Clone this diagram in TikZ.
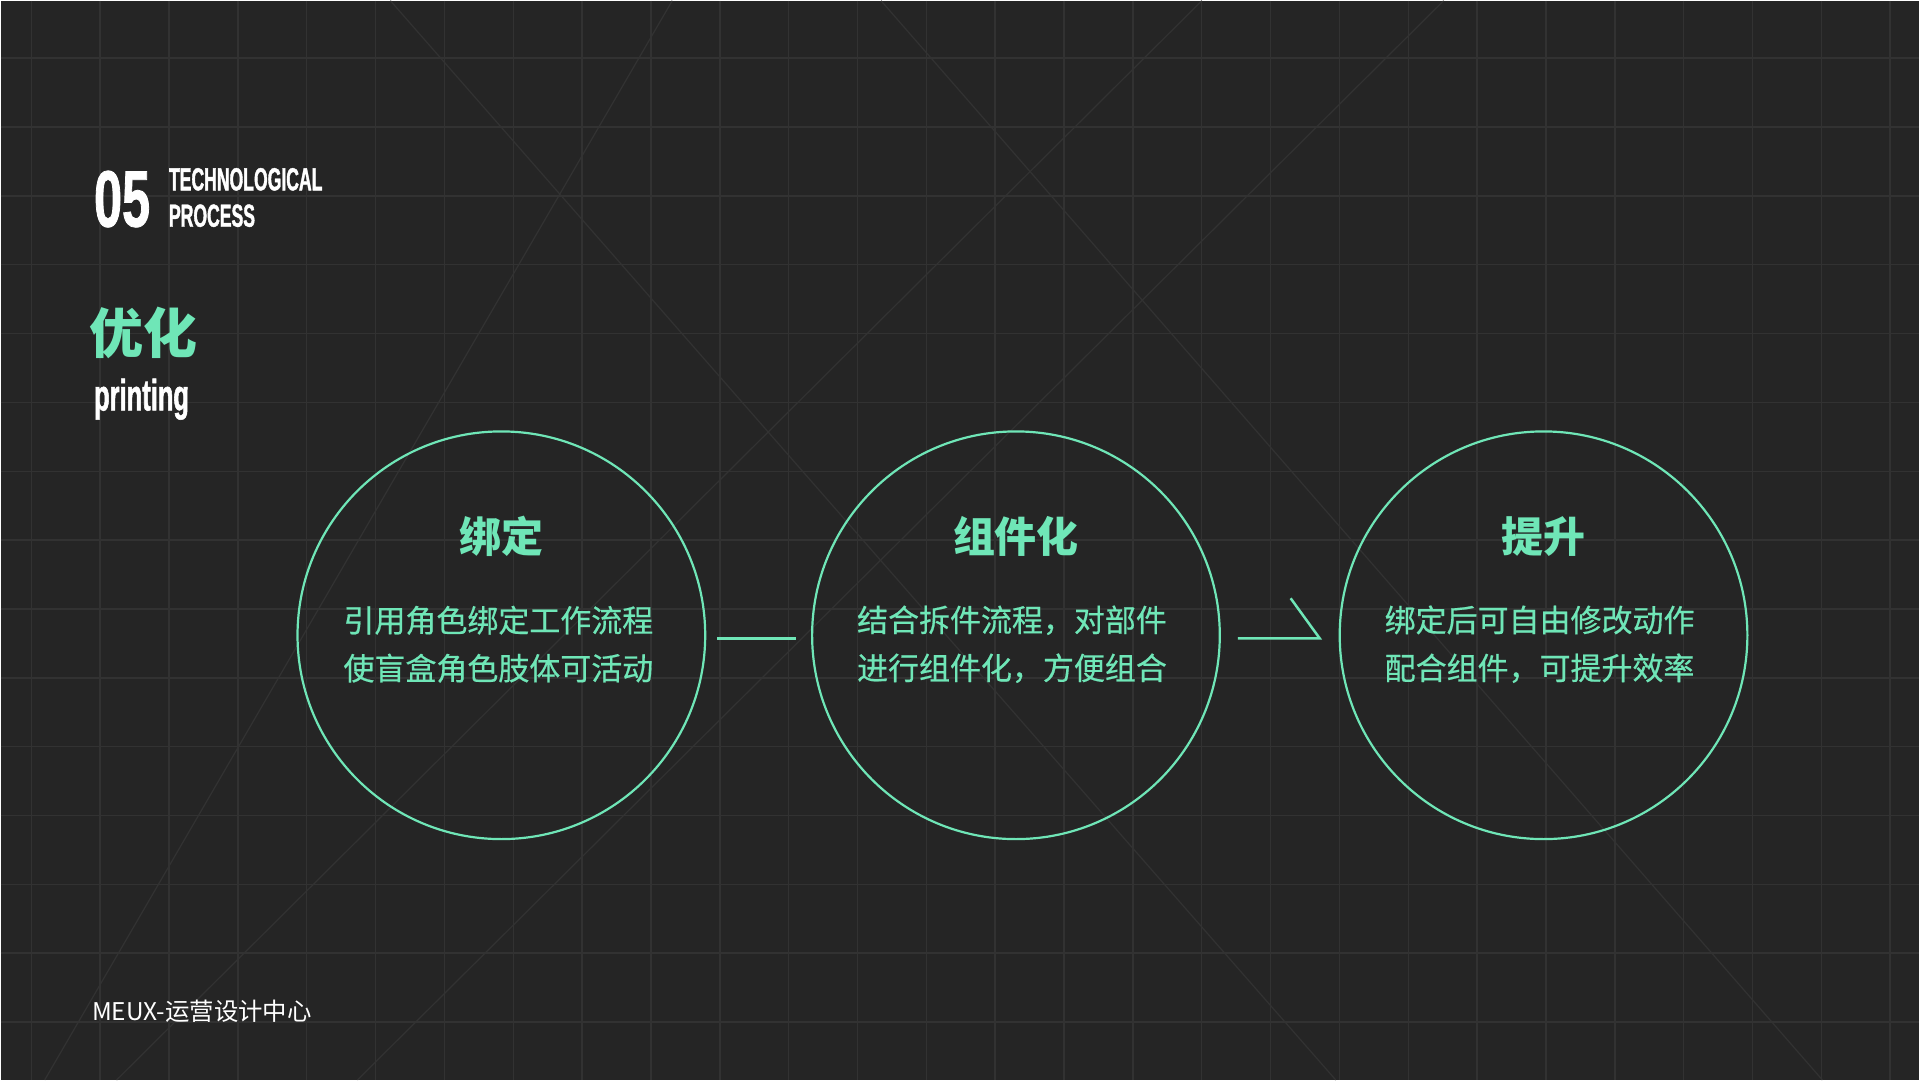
\documentclass[tikz,border=0pt]{standalone}
\usepackage{fontspec}
\usepackage{tikz}
\usetikzlibrary{positioning}
\newfontfamily\cjk{Noto Sans CJK SC}
\newfontfamily\cjkbody[FakeBold=0.5]{Noto Sans CJK SC}
\newfontfamily\numfont[FakeStretch=0.63,FakeBold=1]{Liberation Sans}
\newfontfamily\capfont[FakeStretch=0.55,FakeBold=1.2]{Liberation Sans}
\newfontfamily\subfont[FakeStretch=0.58,FakeBold=1.2]{Liberation Sans}
\definecolor{bgdark}{HTML}{252525}
\definecolor{gridline}{HTML}{323232}
\definecolor{mint}{HTML}{6FE6B7}

\begin{document}
\begin{tikzpicture}[x=0.5pt,y=-0.5pt,
  stage/.style={circle,draw=mint,line width=1.1pt,minimum size=204pt,inner sep=0pt},
  stagetitle/.style={text=mint,inner sep=0pt,font=\cjk\bfseries\fontsize{21pt}{21pt}\selectfont},
  stagetext/.style={text=mint,inner sep=0pt,align=center,font=\cjkbody\fontsize{15.5pt}{24pt}\selectfont},
  link/.style={draw=mint,line width=1.25pt},
  bgline/.style={gridline,line width=0.75pt}]
			% background and grid
			\fill[bgdark] (0,0) rectangle (1920,1080);
			\foreach \i in {0,...,27}
				\draw[bgline] ({30.6+68.9*\i},0) -- ++(0,1080);
			\foreach \j in {0,...,14}
				\draw[bgline] (0,{57.5+68.9*\j}) -- ++(1920,0);
			\draw[bgline,line width=0.6pt] (390,0) -- (1336,1080);
			\draw[bgline,line width=0.6pt] (881,0) -- (1823,1080);
			\draw[bgline,line width=0.6pt] (672,0) -- (44,1080);
			\draw[bgline,line width=0.6pt] (1202,0) -- (116,1080);
			\draw[bgline,line width=0.6pt] (1444,0) -- (357,1080);
			% heading
			\node[anchor=base west,inner sep=0pt,text=white,font=\numfont\bfseries\fontsize{40pt}{40pt}\selectfont] (num) at (93,226) {05};
			\node[anchor=north west,inner sep=0pt,align=left,text=white,font=\capfont\bfseries\fontsize{16pt}{18.2pt}\selectfont] (head) at (168,167) {TECHNOLOGICAL\\PROCESS};
			\node[anchor=west,inner sep=0pt,text=mint,font=\cjk\bfseries\fontsize{27pt}{27pt}\selectfont] (topic) at (88,332) {优化};
			\node[anchor=base west,inner sep=0pt,text=white,font=\subfont\bfseries\fontsize{22pt}{22pt}\selectfont] (topicen) at (93,410) {printing};
			% stages
			\node[stage] (bind) at (501,635) {};
			\node[stage] (comp) at (1016,635) {};
			\node[stage] (lift) at (1544,635) {};
			\node[stagetitle] (bindtitle) at ([shift={(0,-99)}]bind.center) {绑定};
			\node[stagetitle] (comptitle) at ([shift={(0,-99)}]comp.center) {组件化};
			\node[stagetitle] (lifttitle) at ([shift={(0,-99)}]lift.center) {提升};
			\node[stagetext] (bindtext) at ([shift={(-3,9)}]bind.center) {引用角色绑定工作流程\\使盲盒角色肢体可活动};
			\node[stagetext] (comptext) at ([shift={(-4,9)}]comp.center) {结合拆件流程，对部件\\进行组件化，方便组合};
			\node[stagetext] (lifttext) at ([shift={(-4,9)}]lift.center) {绑定后可自由修改动作\\配合组件，可提升效率};
			\draw[link] ([shift={(11,3)}]bind.east) -- ([shift={(-15,3)}]comp.west);
			\draw[link] ([shift={(17,3)}]comp.east) -- ([shift={(-19,3)}]lift.west) -- ++(-29,-40);
			% footer
			\node[anchor=west,inner sep=0pt,text=white,font=\cjk\fontsize{12.2pt}{12.2pt}\selectfont] (footer) at (91,1011) {MEUX-运营设计中心};
\end{tikzpicture}
\end{document}
